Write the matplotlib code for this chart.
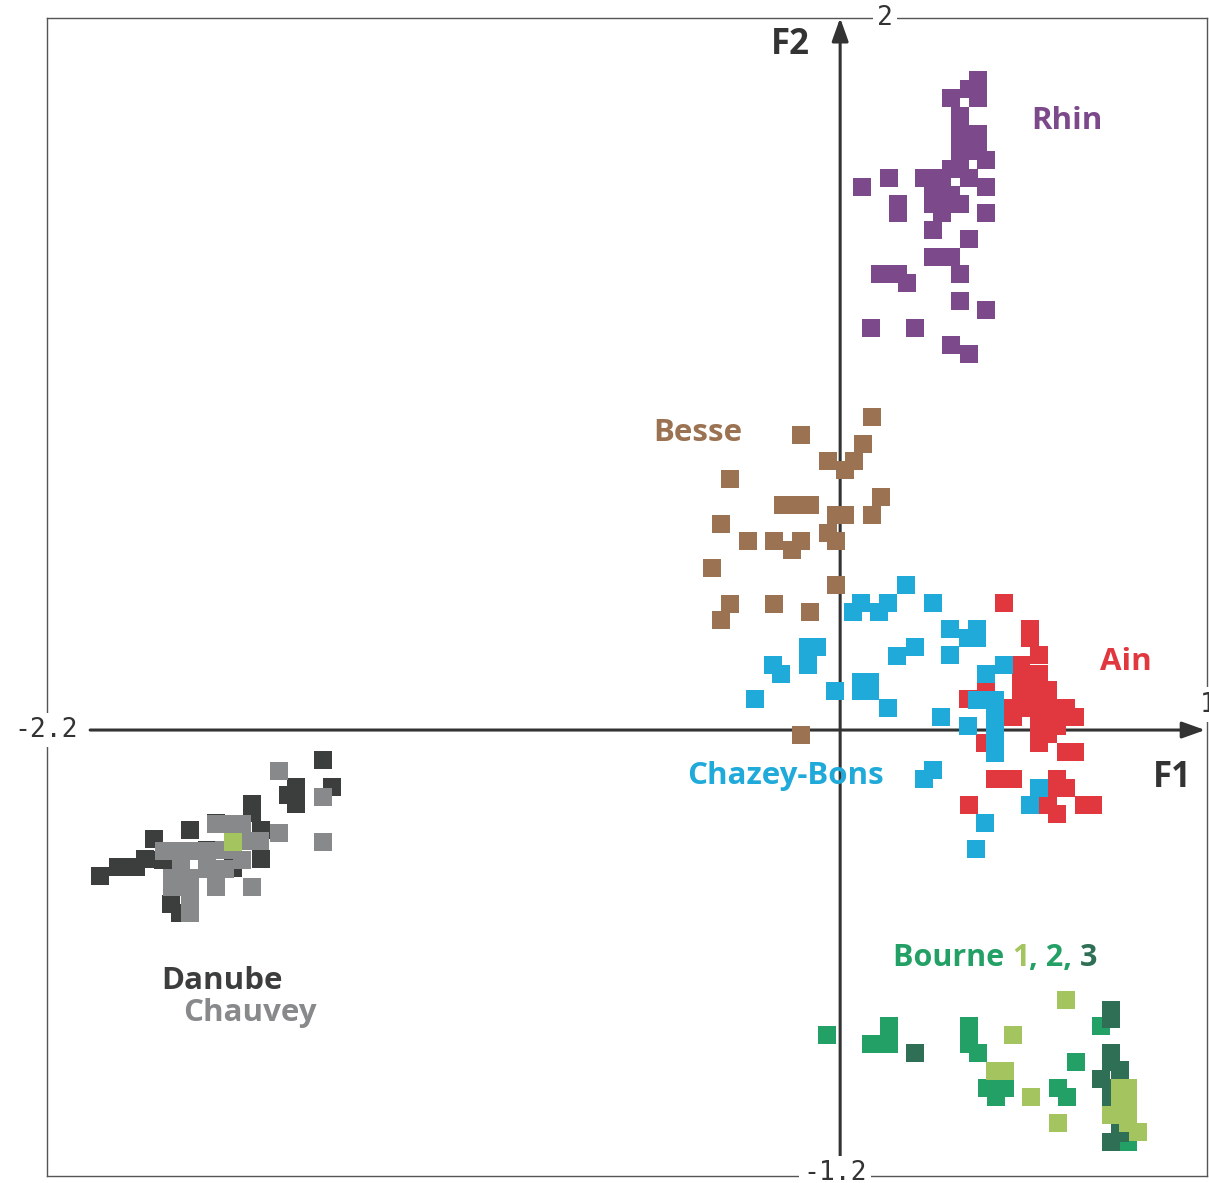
import matplotlib
matplotlib.use('Agg')
import matplotlib.pyplot as plt

# F1 / F2 coordinates
rhin_x = [0.381, 0.356, 0.306, 0.381, 0.331, 0.331, 0.331, 0.381, 0.381, 0.403,
          0.306, 0.331, 0.232, 0.281, 0.356, 0.403, 0.061, 0.135, 0.257, 0.306,
          0.331, 0.257, 0.281, 0.160, 0.160, 0.403, 0.257, 0.356, 0.257, 0.306,
          0.110, 0.160, 0.185, 0.331, 0.331, 0.403, 0.086, 0.207, 0.306, 0.356]
rhin_y = [1.796, 1.771, 1.746, 1.746, 1.696, 1.646, 1.599, 1.646, 1.599, 1.575,
          1.550, 1.550, 1.525, 1.525, 1.525, 1.500, 1.500, 1.525, 1.478, 1.478,
          1.453, 1.453, 1.428, 1.453, 1.428, 1.428, 1.381, 1.356, 1.307, 1.307,
          1.260, 1.260, 1.235, 1.260, 1.185, 1.160, 1.110, 1.110, 1.064, 1.039]

besse_x = [0.088, -0.108, 0.063, -0.033, 0.039, 0.014, -0.303, 0.113, -0.157, -0.119,
           -0.083, -0.011, 0.014, 0.088, -0.328, -0.033, -0.011, -0.254, -0.182, -0.108,
           -0.132, -0.353, -0.011, -0.303, -0.182, -0.083, -0.328, -0.108]
besse_y = [0.865, 0.815, 0.790, 0.743, 0.743, 0.718, 0.693, 0.644, 0.622, 0.622,
           0.622, 0.594, 0.594, 0.594, 0.569, 0.544, 0.522, 0.522, 0.522, 0.522,
           0.497, 0.448, 0.401, 0.348, 0.348, 0.326, 0.304, -0.014]

ain_x = [0.452, 0.524, 0.524, 0.549, 0.499, 0.524, 0.549, 0.499, 0.549, 0.403,
         0.499, 0.524, 0.574, 0.353, 0.574, 0.477, 0.524, 0.549, 0.623, 0.648,
         0.549, 0.574, 0.477, 0.549, 0.599, 0.549, 0.574, 0.400, 0.549, 0.623,
         0.648, 0.428, 0.477, 0.599, 0.599, 0.623, 0.574, 0.599, 0.673, 0.698,
         0.356]
ain_y = [0.351, 0.279, 0.254, 0.207, 0.180, 0.155, 0.155, 0.133, 0.133, 0.110,
         0.110, 0.110, 0.110, 0.086, 0.086, 0.061, 0.061, 0.061, 0.061, 0.036,
         0.036, 0.036, 0.036, 0.011, 0.011, -0.011, -0.011, -0.036, -0.036, -0.061,
         -0.061, -0.135, -0.135, -0.135, -0.160, -0.160, -0.207, -0.232, -0.207, -0.207,
         -0.207]

chazey_x = [0.058, 0.036, 0.108, 0.132, 0.182, 0.257, -0.088, -0.063, -0.088, -0.185,
            -0.163, 0.157, 0.207, -0.014, 0.058, 0.083, 0.083, 0.058, -0.234, 0.132,
            0.279, 0.303, 0.378, 0.353, 0.378, 0.303, 0.452, 0.403, 0.378, 0.428,
            0.428, 0.428, 0.353, 0.428, 0.257, 0.232, 0.549, 0.524, 0.400, 0.375]
chazey_y = [0.351, 0.326, 0.326, 0.351, 0.401, 0.351, 0.229, 0.229, 0.180, 0.180,
            0.155, 0.204, 0.229, 0.108, 0.133, 0.108, 0.133, 0.108, 0.086, 0.061,
            0.036, 0.279, 0.279, 0.254, 0.254, 0.207, 0.180, 0.155, 0.083, 0.083,
            0.033, -0.014, 0.011, -0.064, -0.110, -0.135, -0.160, -0.207, -0.257, -0.329]

bourne1_x = [0.623, 0.477, 0.428, 0.455, 0.527, 0.601, 0.772, 0.794, 0.772, 0.794,
             0.748, 0.772, 0.794, 0.822]
bourne1_y = [-0.746, -0.843, -0.942, -0.942, -1.014, -1.086, -0.989, -0.989, -1.014, -1.039,
             -1.064, -1.064, -1.086, -1.110]

bourne2_x = [-0.036, 0.135, 0.086, 0.135, 0.356, 0.356, 0.381, 0.406, 0.430, 0.455,
             0.651, 0.601, 0.626, 0.720, 0.794]
bourne2_y = [-0.843, -0.818, -0.867, -0.867, -0.818, -0.867, -0.892, -0.989, -1.014, -0.989,
             -0.917, -0.989, -1.014, -0.818, -1.138]

bourne3_x = [0.207, 0.748, 0.748, 0.748, 0.748, 0.772, 0.720, 0.748, 0.748, 0.772, 0.748]
bourne3_y = [-0.892, -0.773, -0.798, -0.892, -0.917, -0.939, -0.964, -0.989, -1.014, -1.113, -1.138]

danube_x = [-1.426, -1.501, -1.523, -1.501, -1.401, -1.622, -1.622, -1.597, -1.793, -1.892,
            -2.041, -1.992, -1.942, -1.917, -1.868, -1.846, -1.821, -1.721, -1.746, -1.597,
            -1.674]
danube_y = [-0.083, -0.157, -0.180, -0.204, -0.157, -0.204, -0.229, -0.276, -0.276, -0.301,
            -0.403, -0.378, -0.378, -0.356, -0.359, -0.481, -0.506, -0.257, -0.331, -0.356,
            -0.381]

chauvey_x = [-1.548, -1.426, -1.548, -1.426, -1.865, -1.818, -1.793, -1.746, -1.721, -1.674,
             -1.650, -1.650, -1.600, -1.650, -1.699, -1.746, -1.697, -1.818, -1.843, -1.793,
             -1.843, -1.793, -1.793, -1.793, -1.721, -1.622]
chauvey_y = [-0.113, -0.185, -0.285, -0.309, -0.334, -0.334, -0.334, -0.334, -0.260, -0.260,
             -0.260, -0.307, -0.307, -0.359, -0.331, -0.384, -0.384, -0.384, -0.409, -0.409,
             -0.434, -0.434, -0.481, -0.506, -0.434, -0.434]

odd_x = [-1.674]
odd_y = [-0.309]

purple = '#7c4a8b'
brown = '#9b7352'
red = '#e1383f'
blue = '#20aad9'
green_light = '#a3c45e'
green_mid = '#23a065'
green_dark = '#2e6f55'
dark_grey = '#3c3d3d'
grey = '#88898b'
axis_col = '#333333'

fig = plt.figure(figsize=(12.09, 11.83), dpi=100)
ax = fig.add_axes([47 / 1209, 7 / 1183, 1160 / 1209, 1158 / 1183])
ax.set_xlim(-2.188, 1.012)
ax.set_ylim(-1.232, 1.967)
ax.set_xticks([])
ax.set_yticks([])
for s in ax.spines.values():
    s.set_color('#555555')
    s.set_linewidth(1.0)

kw = dict(marker='s', s=165, linewidths=0, zorder=3)
ax.scatter(rhin_x, rhin_y, c=purple, **kw)
ax.scatter(besse_x, besse_y, c=brown, **kw)
ax.scatter(ain_x, ain_y, c=red, **kw)
ax.scatter(chazey_x, chazey_y, c=blue, **kw)
ax.scatter(bourne2_x, bourne2_y, c=green_mid, **kw)
ax.scatter(bourne3_x, bourne3_y, c=green_dark, **kw)
ax.scatter(bourne1_x, bourne1_y, c=green_light, **kw)
ax.scatter(danube_x, danube_y, c=dark_grey, **kw)
ax.scatter(chauvey_x, chauvey_y, c=grey, **kw)
ax.scatter(odd_x, odd_y, c=green_light, **kw)

# axes through the origin, with arrows
arr = dict(arrowstyle='-|>,head_length=1.4,head_width=0.5', color=axis_col, lw=2.2,
           shrinkA=0, shrinkB=0)
ax.annotate('', xy=(1.007, 0), xytext=(-2.069, 0), arrowprops=arr, zorder=2)
ax.annotate('', xy=(0, 1.967), xytext=(0, -1.19), arrowprops=arr, zorder=2)

tick_font = dict(family='DejaVu Sans Mono', fontsize=19, color='#333333',
                 bbox=dict(facecolor='white', edgecolor='none', pad=3), zorder=5)
ax.text(-2.19, 0, '-2.2', ha='center', va='center', clip_on=False, **tick_font)
ax.text(1.015, 0.07, '1', ha='center', va='center', clip_on=False, **tick_font)
ax.text(0.124, 1.967, '2', ha='center', va='center', clip_on=False, **tick_font)
ax.text(-0.014, -1.225, '-1.2', ha='center', va='center', clip_on=False, **tick_font)

ax.text(-0.138, 1.892, 'F2', fontsize=25, fontweight='bold', family='Open Sans',
        color=axis_col, ha='center', va='center')
ax.text(0.916, -0.133, 'F1', fontsize=25, fontweight='bold', family='Open Sans',
        color=axis_col, ha='center', va='center')

lab = dict(fontsize=22.5, fontweight='bold', family='Open Sans', ha='center', va='center')
ax.text(0.626, 1.682, 'Rhin', color=purple, **lab)
ax.text(-0.392, 0.820, 'Besse', color=brown, **lab)
ax.text(0.789, 0.188, 'Ain', color=red, **lab)
ax.text(-0.152, -0.127, 'Chazey-Bons', color=blue, **lab)
ax.text(-1.705, -0.693, 'Danube', color=dark_grey, **lab)
ax.text(-1.628, -0.782, 'Chauvey', color=grey, **lab)

# Bourne 1, 2, 3 with coloured numbers
pieces = [('Bourne ', green_mid), ('1', green_light), (', 2, ', green_mid), ('3', green_dark)]
fig.canvas.draw()
rend = fig.canvas.get_renderer()
x0 = 0.146
for txt, col in pieces:
    t = ax.text(x0, -0.630, txt, color=col, fontsize=22, fontweight='bold',
                family='Open Sans', ha='left', va='center')
    bb = t.get_window_extent(renderer=rend)
    x0 = ax.transData.inverted().transform((bb.x1, bb.y0))[0]

fig.savefig('out.png', dpi=100)
